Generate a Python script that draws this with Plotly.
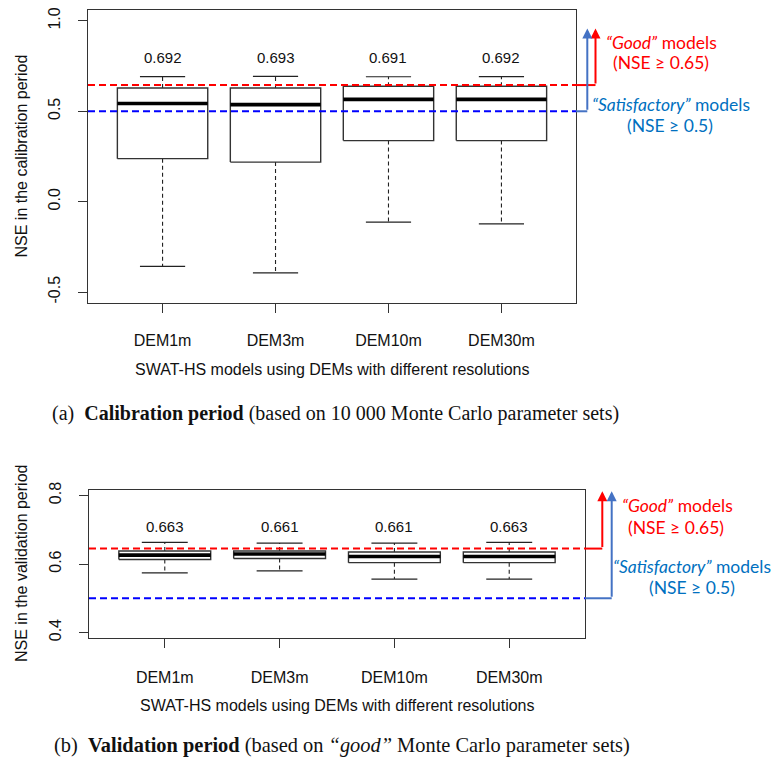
import plotly.graph_objects as go

# ---------------- data ----------------
models = ["DEM1m", "DEM3m", "DEM10m", "DEM30m"]

cal_lower = [-0.357, -0.393, -0.113, -0.122]
cal_q1 = [0.238, 0.219, 0.338, 0.338]
cal_median = [0.543, 0.537, 0.566, 0.566]
cal_q3 = [0.629, 0.629, 0.638, 0.638]
cal_upper = [0.692, 0.693, 0.691, 0.692]

val_lower = [0.574, 0.580, 0.556, 0.556]
val_q1 = [0.613, 0.616, 0.604, 0.604]
val_median = [0.626, 0.629, 0.622, 0.622]
val_q3 = [0.638, 0.638, 0.635, 0.635]
val_upper = [0.663, 0.661, 0.661, 0.663]

good_line = 0.645
satisfactory_line = 0.5

cal_yticks = [-0.5, 0.0, 0.5, 1.0]
val_yticks = [0.4, 0.6, 0.8]

# ---------------- layout helpers ----------------
W, H = 772, 773


def px(x):
    return x / W


def py(y):
    return 1 - y / H


LINE = "#333333"
SANS = "Liberation Sans, Arial, sans-serif"
SERIF = "Liberation Serif, Times New Roman, serif"
CAL = "Lato, Carlito, sans-serif"
RED = "#FF0000"
BLUE_LINE = "#0000FF"
BLUE_ARROW = "#4472C4"
BLUE_TEXT = "#0070C0"

fig = go.Figure()


def add_boxes(lower, q1, med, q3, upper, xa, ya):
    bx, by, mx, my, wx, wy, cx, cy = [], [], [], [], [], [], [], []
    for i in range(len(models)):
        p = i + 1
        bx += [p - 0.4, p + 0.4, p + 0.4, p - 0.4, p - 0.4, None]
        by += [q1[i], q1[i], q3[i], q3[i], q1[i], None]
        mx += [p - 0.4, p + 0.4, None]
        my += [med[i], med[i], None]
        wx += [p, p, None, p, p, None]
        wy += [q3[i], upper[i], None, q1[i], lower[i], None]
        cx += [p - 0.2, p + 0.2, None, p - 0.2, p + 0.2, None]
        cy += [upper[i], upper[i], None, lower[i], lower[i], None]
    common = dict(xaxis=xa, yaxis=ya, mode="lines", showlegend=False, hoverinfo="skip")
    fig.add_trace(go.Scatter(x=wx, y=wy, line=dict(color="#222", width=1.1, dash="4px,3px"), **common))
    fig.add_trace(go.Scatter(x=cx, y=cy, line=dict(color="#222", width=1.2), **common))
    fig.add_trace(go.Scatter(x=bx, y=by, line=dict(color=LINE, width=1.4), **common))
    fig.add_trace(go.Scatter(x=mx, y=my, line=dict(color="#000", width=3.6), **common))


add_boxes(cal_lower, cal_q1, cal_median, cal_q3, cal_upper, "x", "y")
add_boxes(val_lower, val_q1, val_median, val_q3, val_upper, "x2", "y2")

axis_common = dict(
    showline=True, mirror=True, linecolor=LINE, linewidth=1.3,
    ticks="outside", ticklen=9, tickwidth=1.2, tickcolor=LINE,
    showgrid=False, zeroline=False, automargin=False,
    tickfont=dict(family=SANS, size=16, color="#111"),
)

fig.update_layout(
    width=W, height=H, margin=dict(l=0, r=0, t=0, b=0, autoexpand=False),
    paper_bgcolor="white", plot_bgcolor="white",
    xaxis=dict(domain=[px(88), px(576)], anchor="y", range=[0.34, 4.66],
               tickvals=[1, 2, 3, 4], ticktext=models, ticklabelstandoff=14, **axis_common),
    yaxis=dict(domain=[py(303), py(10)], anchor="x", range=[-0.56, 1.06],
               tickvals=cal_yticks, ticktext=[f"{v:.1f}" for v in cal_yticks],
               tickangle=-90, ticklabelstandoff=11, **axis_common),
    xaxis2=dict(domain=[px(89), px(585)], anchor="y2", range=[0.34, 4.66],
                tickvals=[1, 2, 3, 4], ticktext=models, ticklabelstandoff=16, **axis_common),
    yaxis2=dict(domain=[py(638), py(490)], anchor="x2", range=[0.384, 0.816],
                tickvals=val_yticks, ticktext=[f"{v:.1f}" for v in val_yticks],
                tickangle=-90, ticklabelstandoff=11, **axis_common),
)

shapes = []
annotations = []

panels = [
    dict(xa="x", ya="y", upper=cal_upper, label_y=0.8, frame_r=576, red_x=595.5, blue_x=587.3,
         tip=0.958, dash_end=582,
         ytitle="NSE in the calibration period", ytitle_x=21, xtitle_y=370,
         good_pos=(661, 43), good2_pos=(660.5, 63), sat_pos=(670.5, 104), sat2_pos=(670, 126)),
    dict(xa="x2", ya="y2", upper=val_upper, label_y=0.71, frame_r=585, red_x=602.3, blue_x=611.7,
         tip=0.8126, dash_end=590,
         ytitle="NSE in the validation period", ytitle_x=21, xtitle_y=705,
         good_pos=(677, 505), good2_pos=(675.5, 527), sat_pos=(691.5, 566), sat2_pos=(691.5, 587)),
]

CENTER = dict(xanchor="center", yanchor="middle")

for pnl in panels:
    xa, ya = pnl["xa"], pnl["ya"]
    # threshold dashed lines inside the plot
    for val, col in [(good_line, RED), (satisfactory_line, BLUE_LINE)]:
        shapes.append(dict(type="line", xref=f"{xa} domain", yref=ya, x0=0, x1=1, y0=val, y1=val,
                           line=dict(color=col, width=2, dash="7px,4px"), layer="above"))
    # connectors outside the plot
    shapes.append(dict(type="line", xref="paper", yref=ya, x0=px(pnl["frame_r"]), x1=px(pnl["dash_end"]),
                       y0=good_line, y1=good_line, line=dict(color=RED, width=2, dash="6px,3px")))
    shapes.append(dict(type="line", xref="paper", yref=ya, x0=px(pnl["dash_end"]), x1=px(pnl["red_x"]),
                       y0=good_line, y1=good_line, line=dict(color=RED, width=2)))
    shapes.append(dict(type="line", xref="paper", yref=ya, x0=px(pnl["frame_r"]), x1=px(pnl["blue_x"]),
                       y0=satisfactory_line, y1=satisfactory_line, line=dict(color=BLUE_ARROW, width=2)))
    # arrows
    for xpos, base, col in [(pnl["red_x"], good_line, RED), (pnl["blue_x"], satisfactory_line, BLUE_ARROW)]:
        annotations.append(dict(xref="paper", yref=ya, x=px(xpos), y=pnl["tip"],
                                axref="pixel", ax=0, ayref=ya, ay=base, text="",
                                showarrow=True, arrowhead=2, arrowsize=1, arrowwidth=2,
                                arrowcolor=col, standoff=0))
    # value labels
    for i, v in enumerate(pnl["upper"]):
        annotations.append(dict(xref=xa, yref=ya, x=i + 1, y=pnl["label_y"], text=f"{v:.3f}",
                                showarrow=False, font=dict(family=SANS, size=15, color="#111"), **CENTER))
    # axis titles
    annotations.append(dict(xref="paper", yref=f"{ya} domain", x=px(pnl["ytitle_x"]), y=0.5,
                            text=pnl["ytitle"], textangle=-90, showarrow=False,
                            font=dict(family=SANS, size=16, color="#111"), **CENTER))
    annotations.append(dict(xref=f"{xa} domain", yref="paper", x=0.5, y=py(pnl["xtitle_y"]),
                            text="SWAT-HS models using DEMs with different resolutions", showarrow=False,
                            font=dict(family=SANS, size=16, color="#111"), **CENTER))
    # right-side labels
    for key, txt, col in [("good_pos", "<i>“Good”</i> models", RED), ("good2_pos", "(NSE ≥ 0.65)", RED),
                          ("sat_pos", "<i>“Satisfactory”</i> models", BLUE_TEXT),
                          ("sat2_pos", "(NSE ≥ 0.5)", BLUE_TEXT)]:
        tx, ty = pnl[key]
        annotations.append(dict(xref="paper", yref="paper", x=px(tx), y=py(ty), text=txt,
                                showarrow=False, font=dict(family=CAL, size=17.5, color=col), **CENTER))

# captions
annotations.append(dict(xref="paper", yref="paper", x=px(50), y=py(413), xanchor="left", yanchor="middle",
                        text="(a)  <b>Calibration period</b> (based on 10 000 Monte Carlo parameter sets)",
                        showarrow=False, font=dict(family=SERIF, size=20, color="#111")))
annotations.append(dict(xref="paper", yref="paper", x=px(52), y=py(745), xanchor="left", yanchor="middle",
                        text="(b)  <b>Validation period</b> (based on <i>“good”</i> Monte Carlo parameter sets)",
                        showarrow=False, font=dict(family=SERIF, size=20.4, color="#111")))

fig.update_layout(shapes=shapes, annotations=annotations)
fig.write_html("out.html")
